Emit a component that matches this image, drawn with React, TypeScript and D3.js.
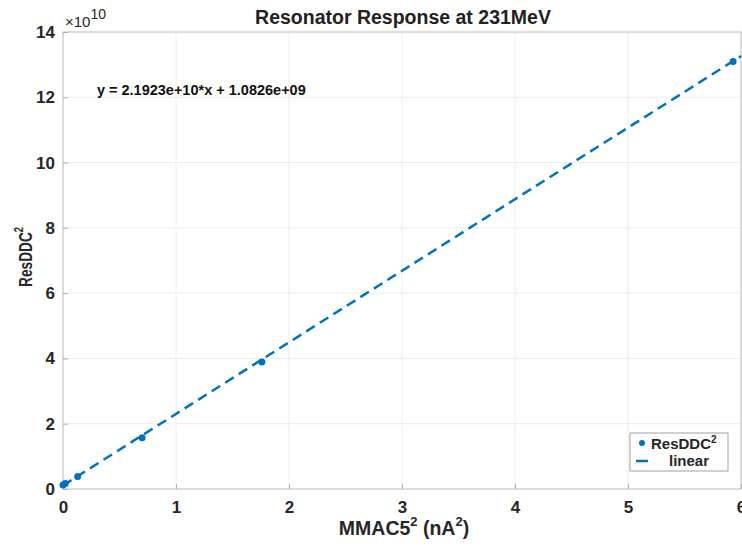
import { useEffect, useRef } from "react"
import * as d3 from "d3"

// data in units of 1e10
const mmacSq = [0.0, 0.02, 0.13, 0.7, 1.76, 5.93]
const resDdcSq = [0.12, 0.17, 0.38, 1.57, 3.89, 13.1]
const fitSlope = 2.1923
const fitIntercept = 0.10826
const xTicks = [0, 1, 2, 3, 4, 5, 6]
const yTicks = [0, 2, 4, 6, 8, 10, 12, 14]

const W = 742
const H = 548
const blue = "#0072bd"
const font = "'Liberation Sans', Arial, sans-serif"

export default function App() {
  const svgRef = useRef<SVGSVGElement>(null)

  useEffect(() => {
    if (!svgRef.current) return
    const root = d3.select(svgRef.current)
    root.selectAll("*").remove()

    const margin = { top: 32, right: 1, bottom: 59, left: 63 }
    const width = W - margin.left - margin.right
    const height = H - margin.top - margin.bottom

    root.append("rect").attr("width", W).attr("height", H).attr("fill", "white")

    const svg = root.append("g").attr("transform", `translate(${margin.left},${margin.top})`)

    const x = d3.scaleLinear().domain([0, 6]).range([0, width])
    const y = d3.scaleLinear().domain([0, 14]).range([height, 0])

    // grid
    svg
      .append("g")
      .selectAll("line")
      .data(xTicks)
      .enter()
      .append("line")
      .attr("x1", (d) => x(d))
      .attr("x2", (d) => x(d))
      .attr("y1", 0)
      .attr("y2", height)
      .attr("stroke", "#ececec")
    svg
      .append("g")
      .selectAll("line")
      .data(yTicks)
      .enter()
      .append("line")
      .attr("x1", 0)
      .attr("x2", width)
      .attr("y1", (d) => y(d))
      .attr("y2", (d) => y(d))
      .attr("stroke", "#ececec")

    // axes box
    svg
      .append("rect")
      .attr("width", width)
      .attr("height", height)
      .attr("fill", "none")
      .attr("stroke", "#c4c4c4")

    // X axis
    const xAxis = svg
      .append("g")
      .attr("transform", `translate(0,${height})`)
      .call(d3.axisBottom(x).tickValues(xTicks).tickSize(-5).tickPadding(12).tickFormat(d3.format("d")))
    xAxis.select(".domain").remove()
    xAxis.selectAll("line").attr("stroke", "#b0b0b0")
    xAxis
      .selectAll("text")
      .attr("fill", "#262626")
      .attr("font-size", 17)
      .attr("font-weight", "bold")
      .attr("font-family", font)

    // Y axis
    const yAxis = svg
      .append("g")
      .call(d3.axisLeft(y).tickValues(yTicks).tickSize(-5).tickPadding(8).tickFormat(d3.format("d")))
    yAxis.select(".domain").remove()
    yAxis.selectAll("line").attr("stroke", "#b0b0b0")
    yAxis
      .selectAll("text")
      .attr("fill", "#262626")
      .attr("font-size", 17)
      .attr("font-weight", "bold")
      .attr("font-family", font)

    // exponent
    const expo = root
      .append("text")
      .attr("x", margin.left + 2)
      .attr("y", 27)
      .attr("fill", "#262626")
      .attr("font-family", font)
      .attr("font-size", 15)
    expo.append("tspan").text("\u00d710")
    expo.append("tspan").attr("font-size", 14).attr("dy", -8).text("10")

    // fit line
    const fitLine = d3
      .line<number>()
      .x((d) => x(d))
      .y((d) => y(fitSlope * d + fitIntercept))
    svg
      .append("path")
      .datum([0, 6])
      .attr("fill", "none")
      .attr("stroke", blue)
      .attr("stroke-width", 2.5)
      .attr("stroke-dasharray", "10 6")
      .attr("d", fitLine)

    // points
    svg
      .selectAll(".pt")
      .data(mmacSq.map((v, i) => [v, resDdcSq[i]]))
      .enter()
      .append("circle")
      .attr("class", "pt")
      .attr("cx", (d) => x(d[0]))
      .attr("cy", (d) => y(d[1]))
      .attr("r", 3.5)
      .attr("fill", blue)

    // equation
    svg
      .append("text")
      .attr("x", x(0.3))
      .attr("y", y(12.08))
      .attr("fill", "#111")
      .attr("font-family", font)
      .attr("font-weight", "bold")
      .attr("font-size", 14.5)
      .text("y = 2.1923e+10*x + 1.0826e+09")

    // title
    root
      .append("text")
      .attr("x", 403)
      .attr("y", 24)
      .attr("text-anchor", "middle")
      .attr("fill", "#222")
      .attr("font-family", font)
      .attr("font-weight", "bold")
      .attr("font-size", 19.5)
      .text("Resonator Response at 231MeV")

    // x label
    const xl = root
      .append("text")
      .attr("x", 404)
      .attr("y", 535)
      .attr("text-anchor", "middle")
      .attr("fill", "#262626")
      .attr("font-family", font)
      .attr("font-weight", "bold")
      .attr("font-size", 19.5)
    xl.append("tspan").text("MMAC5")
    xl.append("tspan").attr("font-size", 13).attr("dy", -9).text("2")
    xl.append("tspan").attr("dy", 9).text(" (nA")
    xl.append("tspan").attr("font-size", 13).attr("dy", -9).text("2")
    xl.append("tspan").attr("dy", 9).text(")")

    // y label (source image is squeezed vertically)
    const yl = root
      .append("text")
      .attr("transform", `translate(32,257) rotate(-90) scale(0.72,1)`)
      .attr("text-anchor", "middle")
      .attr("fill", "#262626")
      .attr("font-family", font)
      .attr("font-weight", "bold")
      .attr("font-size", 19)
    yl.append("tspan").text("ResDDC")
    yl.append("tspan").attr("font-size", 13).attr("dy", -9).text("2")

    // legend
    const lg = root.append("g").attr("transform", "translate(630,433)")
    lg.append("rect")
      .attr("width", 98)
      .attr("height", 38)
      .attr("fill", "white")
      .attr("stroke", "#a0a0a0")
    lg.append("circle").attr("cx", 12).attr("cy", 10).attr("r", 3).attr("fill", blue)
    const t1 = lg
      .append("text")
      .attr("x", 21)
      .attr("y", 16)
      .attr("fill", "#262626")
      .attr("font-family", font)
      .attr("font-weight", "bold")
      .attr("font-size", 15)
    t1.append("tspan").text("ResDDC")
    t1.append("tspan").attr("font-size", 10).attr("dy", -6).text("2")
    lg.append("line")
      .attr("x1", 6)
      .attr("x2", 18)
      .attr("y1", 28)
      .attr("y2", 28)
      .attr("stroke", blue)
      .attr("stroke-width", 2.5)
    lg.append("text")
      .attr("x", 39)
      .attr("y", 33)
      .attr("fill", "#262626")
      .attr("font-family", font)
      .attr("font-weight", "bold")
      .attr("font-size", 15)
      .text("linear")
  }, [])

  return (
    <div style={{ position: "absolute", left: 0, top: 0 }}>
      <svg ref={svgRef} width={W} height={H} style={{ display: "block" }} />
    </div>
  )
}
